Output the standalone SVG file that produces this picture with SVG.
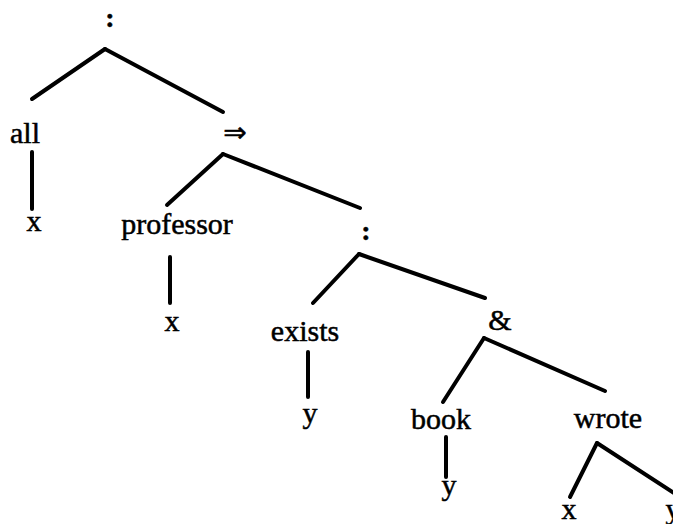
<svg xmlns="http://www.w3.org/2000/svg" width="673" height="524" viewBox="0 0 673 524">
<style>
text{font-family:"Liberation Serif","Times New Roman",serif;font-size:30px;fill:#000;stroke:#000;stroke-width:0.5;text-anchor:middle}
.op{font-weight:bold;font-size:28px}
.arr{font-family:"DejaVu Sans","Liberation Sans",sans-serif;font-size:28px}
#connectors line{stroke:#000;stroke-width:4;stroke-linecap:round}
</style>
<rect width="673" height="524" fill="#fff"/>
<g id="connectors">
<line x1="105" y1="49" x2="32" y2="99"/>
<line x1="105" y1="49" x2="223" y2="112"/>
<line x1="32" y1="152" x2="32" y2="209"/>
<line x1="223" y1="154" x2="167" y2="205"/>
<line x1="223" y1="154" x2="360" y2="208"/>
<line x1="170" y1="257" x2="170" y2="303"/>
<line x1="359" y1="254" x2="313" y2="303"/>
<line x1="359" y1="254" x2="485" y2="298"/>
<line x1="308" y1="352" x2="308" y2="397"/>
<line x1="484" y1="338" x2="443" y2="402"/>
<line x1="484" y1="338" x2="605" y2="391"/>
<line x1="446" y1="437" x2="446" y2="477"/>
<line x1="597" y1="443" x2="570" y2="497"/>
<line x1="597" y1="443" x2="680" y2="497"/>
</g>
<g id="n-root"><text class="op" x="110" y="27">:</text></g>
<g id="n-all"><text x="25" y="143">all</text></g>
<g id="n-x1"><text x="34" y="231">x</text></g>
<g id="n-implies"><text class="arr" x="235" y="142">⇒</text></g>
<g id="n-professor"><text x="177" y="234">professor</text></g>
<g id="n-x2"><text x="172" y="331">x</text></g>
<g id="n-colon2"><text class="op" x="366" y="240">:</text></g>
<g id="n-exists"><text x="305" y="341">exists</text></g>
<g id="n-y1"><text x="310" y="423">y</text></g>
<g id="n-and"><text x="500" y="330">&amp;</text></g>
<g id="n-book"><text x="441" y="429">book</text></g>
<g id="n-y2"><text x="449" y="495">y</text></g>
<g id="n-wrote"><text x="608" y="428">wrote</text></g>
<g id="n-x3"><text x="569" y="519">x</text></g>
<g id="n-y3"><text x="673" y="519">y</text></g>
</svg>
